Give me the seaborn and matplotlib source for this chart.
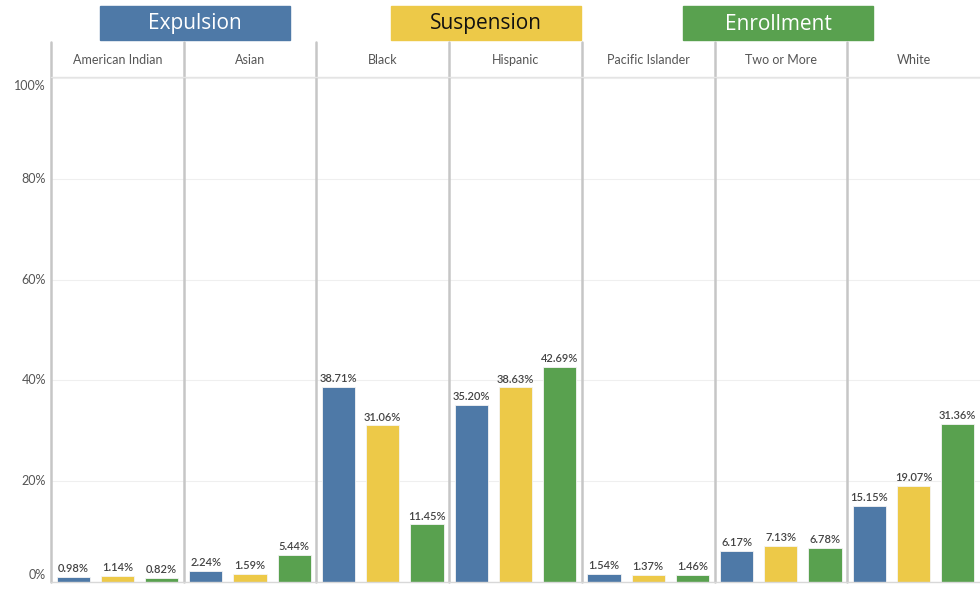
import numpy as np
import pandas as pd
import matplotlib
matplotlib.use("Agg")
import matplotlib.pyplot as plt
from matplotlib.lines import Line2D
from matplotlib.patches import Rectangle
import seaborn as sns

# data (percent)
groups = ["American Indian", "Asian", "Black", "Hispanic",
          "Pacific Islander", "Two or More", "White"]
measures = ["Expulsion", "Suspension", "Enrollment"]
expulsion = [0.98, 2.24, 38.71, 35.20, 1.54, 6.17, 15.15]
suspension = [1.14, 1.59, 31.06, 38.63, 1.37, 7.13, 19.07]
enrollment = [0.82, 5.44, 11.45, 42.69, 1.46, 6.78, 31.36]
y_ticks = [0, 20, 40, 60, 80, 100]

colors = {"Expulsion": "#4e79a7", "Suspension": "#edc948", "Enrollment": "#59a14f"}

rows = []
for i, g in enumerate(groups):
    for m, vals in zip(measures, [expulsion, suspension, enrollment]):
        rows.append({"group": g, "measure": m, "value": vals[i]})
df = pd.DataFrame(rows)

sns.set_style("white")
plt.rcParams["font.family"] = ["Lato", "DejaVu Sans"]

W, H = 980, 590
fig = plt.figure(figsize=(W / 100, H / 100), dpi=100)

left, panel_w = 51, 132.7
top, bottom = 78, 582
sep_color = "#c6c6c6"

def fx(px):
    return px / W

def fy(py):
    return 1 - py / H

for i, g in enumerate(groups):
    x0 = left + panel_w * i
    ax = fig.add_axes([fx(x0), fy(bottom), fx(panel_w), (bottom - top) / H])
    sub = df[df["group"] == g]
    sns.barplot(data=sub, x="measure", y="value", hue="measure", order=measures,
                hue_order=measures, palette=colors, width=0.75, legend=False,
                ax=ax, saturation=1, edgecolor="#f4f4f4", linewidth=0.6)
    ax.set_xlim(-0.5, 2.5)
    ax.set_ylim(0, 100)
    ax.set_yticks(y_ticks)
    ax.grid(axis="y", color="#efefef", linewidth=0.8)
    ax.set_axisbelow(True)
    for s in ax.spines.values():
        s.set_visible(False)
    ax.set_xlabel("")
    ax.set_ylabel("")
    ax.set_xticks([])
    ax.tick_params(axis="y", length=0, labelleft=False)
    for c in ax.containers:
        ax.bar_label(c, fmt="%.2f%%", fontsize=8, color="#444444",
                     fontweight="semibold", padding=2)
    fig.text(fx(x0 + panel_w / 2), fy(60), g, ha="center", va="center",
             fontsize=9, color="#555555")

# y tick labels on the left
for t in y_ticks:
    py = bottom - (bottom - top) * t / 100
    if t == 100:
        py += 8
    elif t == 0:
        py -= 7
    fig.text(fx(46), fy(py), f"{t}%", ha="right", va="center",
             fontsize=9, color="#555555")

# panel separators and header line
for i in range(len(groups)):
    px = left + panel_w * i
    fig.add_artist(Line2D([fx(px), fx(px)], [fy(42), fy(bottom)],
                          color=sep_color, linewidth=1.8))
fig.add_artist(Line2D([fx(left), 1], [fy(77), fy(77)], color="#e4e4e4", linewidth=1))
fig.add_artist(Line2D([fx(left), 1], [fy(bottom), fy(bottom)], color="#d8d8d8", linewidth=1))

# colour key boxes at the top
boxes = [("Expulsion", 100, "white"), ("Suspension", 391, "#111111"),
         ("Enrollment", 683, "white")]
for name, bx, tc in boxes:
    fig.add_artist(Rectangle((fx(bx), fy(40)), fx(190), 34 / H,
                             transform=fig.transFigure, color=colors[name]))
    fig.text(fx(bx + 95), fy(24), name, ha="center", va="center",
             fontsize=15, color=tc, family=["Open Sans", "DejaVu Sans"])

fig.savefig("out.png", dpi=100, facecolor="white")
